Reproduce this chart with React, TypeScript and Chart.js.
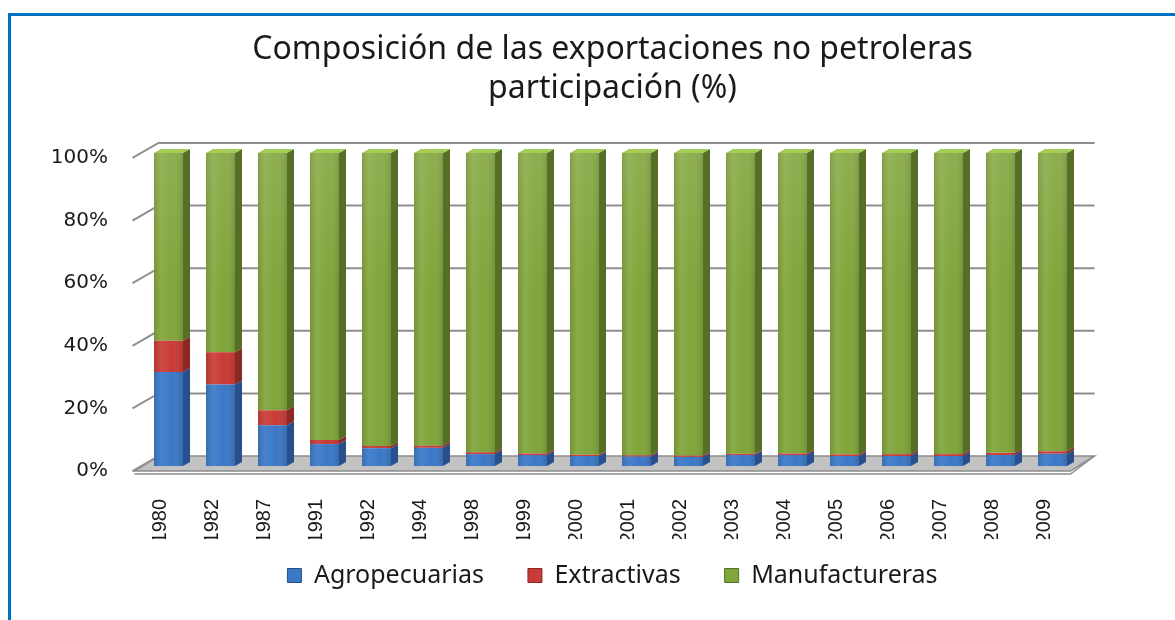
import React, { useEffect, useRef } from "react";
import { Chart, registerables } from "chart.js";

Chart.register(...registerables);

const titleLines = ["Composición de las exportaciones no petroleras", "participación (%)"];
const years = ["1980", "1982", "1987", "1991", "1992", "1994", "1998", "1999", "2000", "2001", "2002", "2003", "2004", "2005", "2006", "2007", "2008", "2009"];
const agropecuarias = [30, 26, 13, 7, 5.7, 5.8, 3.8, 3.5, 3.2, 3.0, 2.9, 3.5, 3.5, 3.2, 3.2, 3.2, 3.5, 3.9];
const extractivas = [10, 10.3, 4.8, 1.3, 0.7, 0.7, 0.6, 0.5, 0.4, 0.4, 0.4, 0.4, 0.5, 0.5, 0.6, 0.6, 0.7, 0.8];
const manufactureras = [60, 63.7, 82.2, 91.7, 93.6, 93.5, 95.6, 96.0, 96.4, 96.6, 96.7, 96.1, 96.0, 96.3, 96.2, 96.2, 95.8, 95.3];
const yTicks = [0, 20, 40, 60, 80, 100];

const FRONT = ["#3b78c6", "#c93b36", "#80a53a"];
const SIDE = ["#264f8c", "#8a2824", "#566f26"];
const TOP = ["#5a93dc", "#e05a52", "#a3cb55"];

// 3D geometry
const WALL_DX = 24, WALL_DY = -15;
const BAR_DX = 8, BAR_DY = -5;
const SIDE_DX = 7, SIDE_DY = -4;

const threeD = {
  id: "threeD",
  beforeDatasetsDraw(chart: any) {
    const { ctx, chartArea } = chart;
    const ys = chart.scales.y;
    const { left, right } = chartArea;
    ctx.save();
    // floor
    const y0 = ys.getPixelForValue(0);
    ctx.beginPath();
    ctx.moveTo(left, y0);
    ctx.lineTo(right, y0);
    ctx.lineTo(right + WALL_DX, y0 + WALL_DY);
    ctx.lineTo(left + WALL_DX, y0 + WALL_DY);
    ctx.closePath();
    ctx.fillStyle = "#c2c2c2";
    ctx.fill();
    ctx.strokeStyle = "#8c8c8c";
    ctx.lineWidth = 1.5;
    ctx.stroke();
    // floor thickness
    ctx.beginPath();
    ctx.moveTo(left, y0 + 3);
    ctx.lineTo(right, y0 + 3);
    ctx.lineTo(right + WALL_DX, y0 + WALL_DY);
    ctx.stroke();
    // wall gridlines
    ctx.strokeStyle = "#8f8f8f";
    ctx.lineWidth = 2;
    yTicks.forEach((v) => {
      const y = ys.getPixelForValue(v);
      ctx.beginPath();
      ctx.moveTo(left - 2, y);
      ctx.lineTo(left + WALL_DX, y + WALL_DY);
      if (v > 0) ctx.lineTo(right + WALL_DX, y + WALL_DY);
      ctx.stroke();
    });
    ctx.restore();
    ctx.save();
    ctx.translate(BAR_DX, BAR_DY);
  },
  afterDatasetsDraw(chart: any) {
    const { ctx } = chart;
    const n = chart.data.datasets.length;
    for (let d = 0; d < n; d++) {
      const meta = chart.getDatasetMeta(d);
      meta.data.forEach((el: any) => {
        const { x, y, base, width } = el.getProps(["x", "y", "base", "width"], true);
        const l = x - width / 2, r = x + width / 2;
        const t = Math.min(y, base), b = Math.max(y, base);
        const g = ctx.createLinearGradient(l, 0, r, 0);
        g.addColorStop(0, "rgba(0,0,0,0.10)");
        g.addColorStop(0.25, "rgba(255,255,255,0.08)");
        g.addColorStop(0.6, "rgba(255,255,255,0.0)");
        g.addColorStop(1, "rgba(0,0,0,0.12)");
        ctx.fillStyle = g;
        ctx.fillRect(l, t, width, b - t);
        ctx.beginPath();
        ctx.moveTo(r, t);
        ctx.lineTo(r + SIDE_DX, t + SIDE_DY);
        ctx.lineTo(r + SIDE_DX, b + SIDE_DY);
        ctx.lineTo(r, b);
        ctx.closePath();
        ctx.fillStyle = SIDE[d];
        ctx.fill();
        if (d === n - 1) {
          ctx.beginPath();
          ctx.moveTo(l, t);
          ctx.lineTo(r, t);
          ctx.lineTo(r + SIDE_DX, t + SIDE_DY);
          ctx.lineTo(l + SIDE_DX, t + SIDE_DY);
          ctx.closePath();
          ctx.fillStyle = TOP[d];
          ctx.fill();
          const vg = ctx.createLinearGradient(0, t, 0, t + 140);
          vg.addColorStop(0, "rgba(255,255,255,0.10)");
          vg.addColorStop(1, "rgba(255,255,255,0)");
          ctx.fillStyle = vg;
          ctx.fillRect(l, t, width, Math.min(140, b - t));
        }
      });
    }
    ctx.restore();
  },
};

export default function App() {
  const ref = useRef<HTMLCanvasElement>(null);
  useEffect(() => {
    if (!ref.current) return;
    const chart = new Chart(ref.current, {
      type: "bar",
      data: {
        labels: years,
        datasets: [
          { label: "Agropecuarias", data: agropecuarias, backgroundColor: FRONT[0], borderColor: SIDE[0], borderWidth: 0, clip: false as any },
          { label: "Extractivas", data: extractivas, backgroundColor: FRONT[1], borderColor: SIDE[1], borderWidth: 0, clip: false as any },
          { label: "Manufactureras", data: manufactureras, backgroundColor: FRONT[2], borderColor: SIDE[2], borderWidth: 0, clip: false as any },
        ],
      },
      options: {
        responsive: false,
        animation: false,
        devicePixelRatio: 1,
        datasets: { bar: { categoryPercentage: 1, barPercentage: 0.558 } },
        layout: { padding: { left: 50, right: 0, top: 0, bottom: 22 } },
        plugins: {
          title: {
            display: true,
            text: titleLines,
            color: "#1a1a1a",
            font: { family: "Noto Sans", size: 32, weight: "normal", lineHeight: 1.22 },
            padding: { top: 30.5, bottom: 49.4 },
          },
          legend: {
            position: "bottom",
            title: {
              display: true,
              text: "",
              font: { size: 1, lineHeight: 1 },
              padding: { top: -10, bottom: -11 },
            },
            labels: {
              color: "#1a1a1a",
              font: { family: "Noto Sans", size: 25 },
              boxWidth: 14,
              boxHeight: 14,
              padding: 44,
              generateLabels: (c: any) =>
                Chart.defaults.plugins.legend.labels.generateLabels(c).map((it: any, i: number) => ({
                  ...it,
                  strokeStyle: SIDE[i],
                  lineWidth: 1,
                })),
            },
          },
          tooltip: { enabled: false },
        },
        scales: {
          x: {
            stacked: true,
            grid: { display: false },
            border: { display: false },
            ticks: {
              autoSkip: false,
              minRotation: 90,
              maxRotation: 90,
              padding: 20,
              color: "#1a1a1a",
              font: { family: "Liberation Sans", size: 20 },
            },
            afterFit: (s: any) => {
              s.height = 68;
            },
          },
          y: {
            stacked: true,
            min: 0,
            max: 100,
            grid: { display: false, drawTicks: false },
            border: { display: false },
            ticks: {
              stepSize: 20,
              padding: 26.5,
              color: "#1a1a1a",
              font: { family: "DejaVu Sans", size: 20 },
              callback: (v: any) => v + "%",
            },
            afterFit: (s: any) => {
              s.width = 84.5;
            },
          },
          y2: {
            position: "right",
            display: true,
            grid: { display: false, drawTicks: false },
            border: { display: false },
            ticks: { display: false },
            afterFit: (s: any) => {
              s.width = 104.5;
            },
          },
        },
      },
      plugins: [threeD],
    });
    return () => chart.destroy();
  }, []);
  return (
    <div style={{ position: "absolute", left: 0, top: 0, width: 1175, height: 620, overflow: "hidden", background: "#fff" }}>
      <div
        style={{
          position: "absolute",
          left: 8,
          top: 13,
          width: 1400,
          height: 900,
          borderLeft: "3px solid #0070c0",
          borderTop: "3px solid #0070c0",
        }}
      />
      <canvas ref={ref} width={1175} height={620} style={{ position: "absolute", left: 0, top: 0, width: 1175, height: 620 }} />
    </div>
  );
}
